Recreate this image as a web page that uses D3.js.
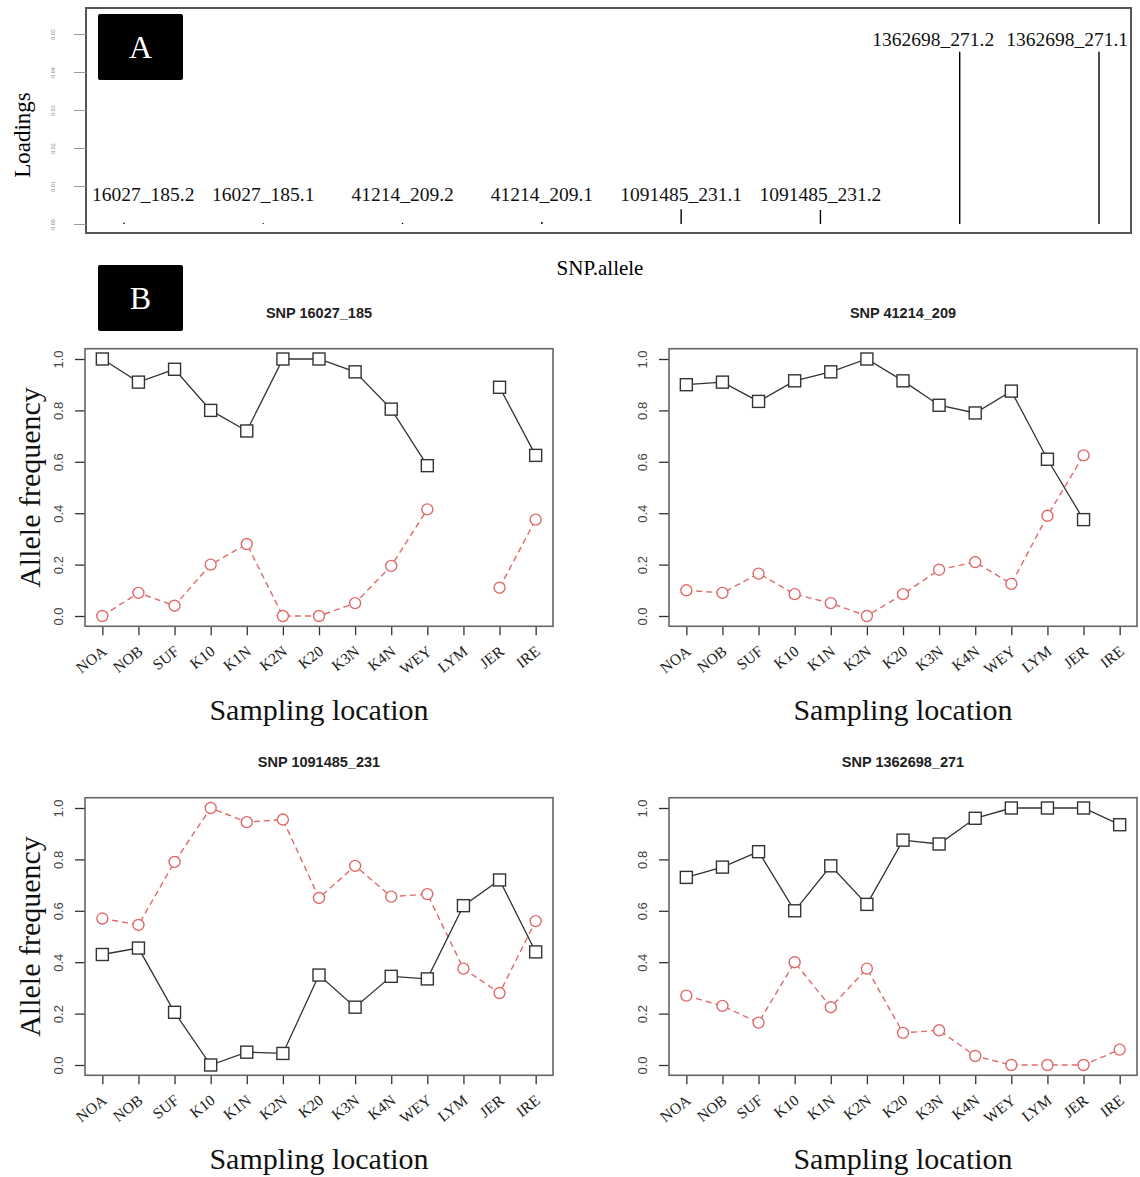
<!DOCTYPE html>
<html>
<head>
<meta charset="utf-8">
<script src="https://cdn.jsdelivr.net/npm/d3@7"></script>
<style>
  body { margin: 0; background: #fff; }
  svg { display: block; }
</style>
</head>
<body>
<div id="container"></div>
<script>

// 1 - DATA

// panel A - allele loadings
const alleleLabels = ["16027_185.2", "16027_185.1", "41214_209.2", "41214_209.1",
                      "1091485_231.1", "1091485_231.2", "1362698_271.2", "1362698_271.1"];
const loadings = [0.0003, 0.0002, 0.0003, 0.0005, 0.0039, 0.0037, 0.0453, 0.0453];
const loadingTicks = [0, 0.01, 0.02, 0.03, 0.04, 0.05];

// panel B - allele frequency per sampling location
const locations = ["NOA", "NOB", "SUF", "K10", "K1N", "K2N", "K20", "K3N", "K4N", "WEY", "LYM", "JER", "IRE"];
const freqTicks = [0, 0.2, 0.4, 0.6, 0.8, 1.0];

const snpNames = ["SNP 16027_185", "SNP 41214_209", "SNP 1091485_231", "SNP 1362698_271"];

const allele1_16027 = [1.0, 0.91, 0.96, 0.80, 0.72, 1.0, 1.0, 0.95, 0.805, 0.585, null, 0.89, 0.625];
const allele2_16027 = [0.0, 0.09, 0.04, 0.20, 0.28, 0.0, 0.0, 0.05, 0.195, 0.415, null, 0.11, 0.375];

const allele1_41214 = [0.90, 0.91, 0.835, 0.915, 0.95, 1.0, 0.915, 0.82, 0.79, 0.875, 0.61, 0.375, null];
const allele2_41214 = [0.10, 0.09, 0.165, 0.085, 0.05, 0.0, 0.085, 0.18, 0.21, 0.125, 0.39, 0.625, null];

const allele1_1091485 = [0.43, 0.455, 0.205, 0.0, 0.05, 0.045, 0.35, 0.225, 0.345, 0.335, 0.62, 0.72, 0.44];
const allele2_1091485 = [0.57, 0.545, 0.79, 1.0, 0.945, 0.955, 0.65, 0.775, 0.655, 0.665, 0.375, 0.28, 0.56];

const allele1_1362698 = [0.73, 0.77, 0.83, 0.60, 0.775, 0.625, 0.875, 0.86, 0.96, 1.0, 1.0, 1.0, 0.935];
const allele2_1362698 = [0.27, 0.23, 0.165, 0.40, 0.225, 0.375, 0.125, 0.135, 0.035, 0.0, 0.0, 0.0, 0.06];


// 2 - SETUP

const width = 1140;
const height = 1177;
const serif = "'Liberation Serif', 'Times New Roman', serif";
const sans = "'Liberation Sans', Arial, sans-serif";
const frameColor = "#666";
const redColor = "#e06a6a";
const darkColor = "#333";

const svg = d3.select("#container")
  .append("svg")
  .attr("width", width)
  .attr("height", height)
  .style("background", "#fff");

// small black tag with a white letter
function tag(x, y, letter) {
  svg.append("rect")
    .attr("x", x).attr("y", y)
    .attr("width", 85).attr("height", 66)
    .attr("rx", 2)
    .attr("fill", "#000");
  svg.append("text")
    .attr("x", x + 42.5).attr("y", y + 44)
    .attr("text-anchor", "middle")
    .style("font-family", serif)
    .style("font-size", "32px")
    .attr("fill", "#fff")
    .text(letter);
}


// 3 - PANEL A - loadings

const boxA = { left: 86, right: 1131, top: 8, bottom: 233 };

const xA = d3.scalePoint()
  .domain(alleleLabels)
  .range([124, 1099]);

const yA = d3.scaleLinear()
  .domain([0, 0.05])
  .range([224, 34]);

const gA = svg.append("g");

gA.append("rect")
  .attr("x", boxA.left).attr("y", boxA.top)
  .attr("width", boxA.right - boxA.left)
  .attr("height", boxA.bottom - boxA.top)
  .attr("fill", "none")
  .attr("stroke", "#555")
  .attr("stroke-width", 2);

// y axis with the tiny unreadable labels
const axisA = gA.append("g")
  .attr("transform", `translate(${boxA.left},0)`)
  .call(d3.axisLeft(yA).tickValues(loadingTicks).tickSize(12).tickFormat(d3.format(".2f")));
axisA.select(".domain").remove();
axisA.selectAll("line").attr("stroke", "#999").attr("stroke-width", 1);
axisA.selectAll("text")
  .attr("x", 0).attr("dy", 0)
  .attr("transform", "translate(-31,0) rotate(-90)")
  .attr("text-anchor", "middle")
  .style("font-family", serif)
  .style("font-size", "6px")
  .attr("fill", "#888");

// spikes
gA.selectAll("line.spike")
  .data(alleleLabels)
  .join("line")
  .attr("class", "spike")
  .attr("x1", d => xA(d)).attr("x2", d => xA(d))
  .attr("y1", yA(0))
  .attr("y2", (d, i) => yA(loadings[i]))
  .attr("stroke", "#000")
  .attr("stroke-width", 1.4);

// allele labels sit on top of their spike
const labelsA = gA.selectAll("text.allele")
  .data(alleleLabels)
  .join("text")
  .attr("class", "allele")
  .attr("x", d => xA(d))
  .attr("y", (d, i) => Math.min(yA(loadings[i]) - 6, yA(0.006)))
  .attr("text-anchor", "middle")
  .style("font-family", serif)
  .style("font-size", "19.5px")
  .attr("fill", "#111")
  .text(d => d);

// keep labels inside the frame and stop them overlapping
const placed = [];
labelsA.each(function (d, i) {
  const w = this.getComputedTextLength();
  placed.push({ node: this, x: xA(d), w: w, y: +this.getAttribute("y") });
});
for (let i = placed.length - 1; i >= 0; i--) {
  const p = placed[i];
  let right = p.x + p.w / 2;
  if (right > boxA.right - 3) right = boxA.right - 3;
  if (right - p.w < boxA.left + 6) right = boxA.left + 6 + p.w;
  const next = placed.slice(i + 1).find(q => Math.abs(q.y - p.y) < 10);
  if (next && right > next.left - 12) right = next.left - 12;
  p.left = right - p.w;
  d3.select(p.node).attr("x", right - p.w / 2);
}

svg.append("text")
  .attr("transform", "translate(30,135) rotate(-90)")
  .attr("text-anchor", "middle")
  .style("font-family", serif)
  .style("font-size", "23px")
  .text("Loadings");

svg.append("text")
  .attr("x", 600).attr("y", 275)
  .attr("text-anchor", "middle")
  .style("font-family", serif)
  .style("font-size", "21px")
  .text("SNP.allele");

tag(98, 14, "A");
tag(98, 265, "B");


// 4 - PANEL B - allele frequency plots

const panels = [
  { title: snpNames[0], a1: allele1_16027, a2: allele2_16027, left: 85, y1: 359, ylab: true },
  { title: snpNames[1], a1: allele1_41214, a2: allele2_41214, left: 669, y1: 359, ylab: false },
  { title: snpNames[2], a1: allele1_1091485, a2: allele2_1091485, left: 85, y1: 808, ylab: true },
  { title: snpNames[3], a1: allele1_1362698, a2: allele2_1362698, left: 669, y1: 808, ylab: false }
];

const boxW = 468;
const unitH = 257;

panels.forEach(p => {
  const step = boxW / 12.96;
  const x = d3.scalePoint()
    .domain(locations)
    .range([p.left + 0.48 * step, p.left + boxW - 0.48 * step]);

  const y = d3.scaleLinear()
    .domain([0, 1])
    .range([p.y1 + unitH, p.y1]);

  const g = svg.append("g");
  const top = y(1.04), bottom = y(-0.04);
  const cx = p.left + boxW / 2;

  // title
  g.append("text")
    .attr("x", cx).attr("y", top - 31)
    .attr("text-anchor", "middle")
    .style("font-family", sans)
    .style("font-weight", "bold")
    .style("font-size", "14.5px")
    .attr("fill", "#222")
    .text(p.title);

  // y axis
  const ya = g.append("g")
    .attr("transform", `translate(${p.left},0)`)
    .call(d3.axisLeft(y).tickValues(freqTicks).tickSize(10).tickFormat(d3.format(".1f")));
  ya.select(".domain").remove();
  ya.selectAll("line").attr("stroke", darkColor).attr("stroke-width", 1.3);
  ya.selectAll("text")
    .attr("x", 0).attr("dy", 0)
    .attr("transform", "translate(-22,0) rotate(-90)")
    .attr("text-anchor", "middle")
    .style("font-family", sans)
    .style("font-size", "13px")
    .attr("fill", "#444");

  // x axis
  const xa = g.append("g")
    .attr("transform", `translate(0,${bottom})`)
    .call(d3.axisBottom(x).tickSize(9));
  xa.select(".domain").remove();
  xa.selectAll("line").attr("stroke", darkColor).attr("stroke-width", 1.3);
  xa.selectAll("text")
    .attr("y", 0).attr("dy", 0)
    .attr("transform", "translate(5,27) rotate(-38)")
    .attr("text-anchor", "end")
    .style("font-family", serif)
    .style("font-size", "15.5px")
    .attr("fill", "#222");

  // frame
  g.append("rect")
    .attr("x", p.left).attr("y", top)
    .attr("width", boxW).attr("height", bottom - top)
    .attr("fill", "none")
    .attr("stroke", frameColor)
    .attr("stroke-width", 1.6);

  const line = d3.line()
    .defined(d => d.v != null)
    .x(d => x(d.loc))
    .y(d => y(d.v));

  const s1 = locations.map((loc, i) => ({ loc, v: p.a1[i] }));
  const s2 = locations.map((loc, i) => ({ loc, v: p.a2[i] }));

  // minor allele - red dashed with circles
  g.append("path")
    .datum(s2)
    .attr("d", line)
    .attr("fill", "none")
    .attr("stroke", redColor)
    .attr("stroke-width", 1.4)
    .attr("stroke-dasharray", "6,4");

  g.selectAll("circle")
    .data(s2.filter(d => d.v != null))
    .join("circle")
    .attr("cx", d => x(d.loc))
    .attr("cy", d => y(d.v))
    .attr("r", 5.5)
    .attr("fill", "#fff")
    .attr("stroke", redColor)
    .attr("stroke-width", 1.4);

  // major allele - dark solid with squares
  g.append("path")
    .datum(s1)
    .attr("d", line)
    .attr("fill", "none")
    .attr("stroke", darkColor)
    .attr("stroke-width", 1.3);

  g.selectAll("rect.pt")
    .data(s1.filter(d => d.v != null))
    .join("rect")
    .attr("class", "pt")
    .attr("x", d => x(d.loc) - 6)
    .attr("y", d => y(d.v) - 6)
    .attr("width", 12).attr("height", 12)
    .attr("fill", "#fff")
    .attr("stroke", darkColor)
    .attr("stroke-width", 1.4);

  // axis titles
  g.append("text")
    .attr("x", cx).attr("y", bottom + 94)
    .attr("text-anchor", "middle")
    .style("font-family", serif)
    .style("font-size", "30px")
    .attr("fill", "#111")
    .text("Sampling location");

  if (p.ylab) {
    g.append("text")
      .attr("transform", `translate(40,${(top + bottom) / 2}) rotate(-90)`)
      .attr("text-anchor", "middle")
      .style("font-family", serif)
      .style("font-size", "30px")
      .attr("fill", "#111")
      .text("Allele frequency");
  }
});

</script>
</body>
</html>
